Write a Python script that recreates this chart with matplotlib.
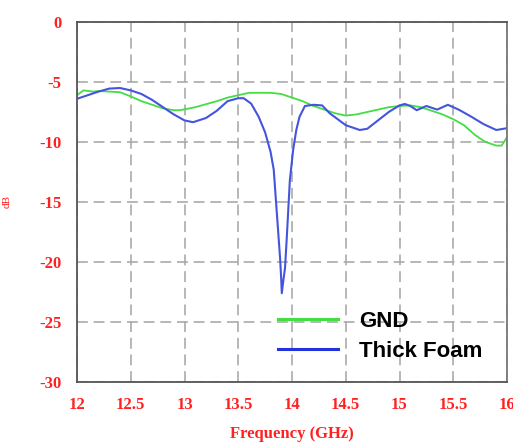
import matplotlib
matplotlib.use("Agg")
import matplotlib.pyplot as plt

# Thick Foam (blue)
foam_f = [12.0, 12.1, 12.2, 12.3, 12.4, 12.5, 12.6, 12.7, 12.8, 12.9, 13.0, 13.08,
          13.2, 13.3, 13.4, 13.5, 13.55, 13.62, 13.69, 13.75, 13.8, 13.83, 13.85,
          13.87, 13.89, 13.9, 13.905, 13.92, 13.935, 13.95, 13.965, 13.98, 14.01,
          14.04, 14.07, 14.12, 14.2, 14.28, 14.35, 14.5, 14.63, 14.7, 14.8, 14.9,
          15.0, 15.05, 15.1, 15.16, 15.25, 15.35, 15.45, 15.55, 15.66, 15.78, 15.9, 16.0]
foam_db = [-6.4, -6.1, -5.8, -5.55, -5.5, -5.7, -6.0, -6.5, -7.1, -7.7, -8.2, -8.35,
           -8.0, -7.4, -6.6, -6.35, -6.35, -6.8, -7.9, -9.2, -10.8, -12.3, -14.8,
           -17.3, -19.8, -21.5, -22.6, -21.5, -20.5, -18.2, -15.7, -13.2, -10.7,
           -9.0, -7.9, -7.0, -6.9, -6.95, -7.6, -8.6, -9.0, -8.9, -8.2, -7.5,
           -6.95, -6.83, -7.0, -7.35, -7.0, -7.3, -6.9, -7.3, -7.85, -8.5, -9.0, -8.85]

# GND (green)
gnd_f = [12.0, 12.06, 12.15, 12.2, 12.3, 12.4, 12.5, 12.6, 12.7, 12.8, 12.9, 12.96,
         13.1, 13.2, 13.3, 13.4, 13.5, 13.6, 13.7, 13.8, 13.9, 14.0, 14.1, 14.2,
         14.3, 14.4, 14.5, 14.6, 14.7, 14.8, 14.9, 15.0, 15.1, 15.2, 15.3, 15.4,
         15.5, 15.6, 15.7, 15.8, 15.9, 15.95, 16.0]
gnd_db = [-6.1, -5.7, -5.8, -5.75, -5.8, -5.85, -6.2, -6.6, -6.9, -7.2, -7.35, -7.35,
          -7.1, -6.85, -6.6, -6.3, -6.1, -5.9, -5.9, -5.9, -6.0, -6.3, -6.6, -7.0,
          -7.3, -7.6, -7.8, -7.7, -7.5, -7.3, -7.1, -7.0, -6.95, -7.1, -7.4, -7.7,
          -8.1, -8.6, -9.4, -10.0, -10.3, -10.3, -9.6]

x_ticks = [12, 12.5, 13, 13.5, 14, 14.5, 15, 15.5, 16]
x_labels = ["12", "12.5", "13", "13.5", "14", "14.5", "15", "15.5", "16"]
y_ticks = [0, -5, -10, -15, -20, -25, -30]
y_labels = ["0", "-5", "-10", "-15", "-20", "-25", "-30"]

fig = plt.figure(figsize=(5.13, 4.42), dpi=100)
ax = fig.add_axes([77/513, 60/442, 430/513, 360/442])

ax.plot(gnd_f, gnd_db, color="#44dd44", lw=1.3, label="GND")
ax.plot(foam_f, foam_db, color="#4455dd", lw=1.5, label="Thick Foam")

ax.set_xlim(12, 16)
ax.set_ylim(-30, 0)
ax.set_xticks(x_ticks)
ax.set_xticklabels(x_labels)
ax.set_yticks(y_ticks)
ax.set_yticklabels(y_labels)
ax.tick_params(length=0, pad=11, labelcolor="#ff2020")
for lab in ax.get_xticklabels() + ax.get_yticklabels():
    lab.set_fontfamily("Liberation Serif")
    lab.set_fontweight("bold")
    lab.set_fontsize(12)

ax.grid(True, color="#aaaaaa", lw=1.2, linestyle=(0, (6.5, 3.5)))
ax.set_axisbelow(True)
for s in ax.spines.values():
    s.set_color("#555555")
    s.set_linewidth(1.3)
ax.spines["right"].set_color("#777777")

ax.set_xlabel("Frequency (GHz)", color="#ff2020", fontfamily="Liberation Serif",
              fontweight="bold", fontsize=12, labelpad=9)
ax.set_ylabel("dB", color="#ff2020", fontfamily="Liberation Serif",
              fontsize=8, labelpad=20)

leg = ax.legend(loc="upper left", bbox_to_anchor=(0.467, 0.197), frameon=False,
                prop={"family": "Liberation Sans", "weight": "bold", "size": 16},
                handlelength=2.7, handletextpad=0.95, labelspacing=0.4,
                borderpad=0, borderaxespad=0)
for h in leg.get_lines():
    h.set_linewidth(2.2)
leg.get_lines()[1].set_color("#2233dd")

fig.savefig("out.png", dpi=100)
